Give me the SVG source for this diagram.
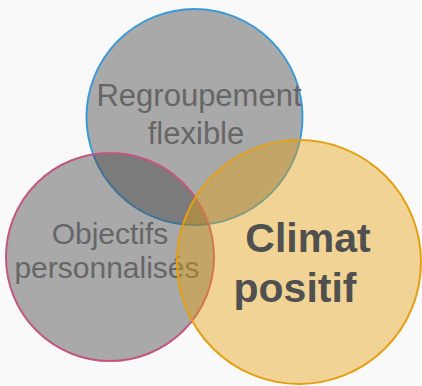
<svg xmlns="http://www.w3.org/2000/svg" width="422" height="386" viewBox="0 0 422 386">
<style>
.t{font-family:"Liberation Sans",Arial,sans-serif;font-size:30px;fill:#666666;text-anchor:middle}
.b{font-family:"Liberation Sans",Arial,sans-serif;font-size:41px;font-weight:bold;fill:#505050;text-anchor:middle}
.g{fill:#3e3e3e;fill-opacity:0.43;stroke-width:2}
.o{fill:#e89f0b;fill-opacity:0.42;stroke:#e3a015;stroke-width:2}
</style>
<rect width="422" height="386" fill="#f9f9f9"/>
<g id="regroupement">
<circle class="g" cx="194.5" cy="117" r="108" stroke="#3a9ad9"/>
<text class="t" x="199" y="106" style="font-size:31px">Regroupement</text>
<text class="t" x="196" y="144" style="font-size:31px">flexible</text>
</g>
<g id="objectifs">
<circle class="g" cx="110" cy="257" r="104" stroke="#c25880"/>
<text class="t" x="110" y="244">Objectifs</text>
<text class="t" x="107" y="278">personnalisés</text>
</g>
<g id="climat">
<circle class="o" cx="299" cy="262" r="122"/>
<text class="b" x="308" y="252">Climat</text>
<text class="b" x="295" y="302">positif</text>
</g>
<g id="connectors"/>
</svg>
